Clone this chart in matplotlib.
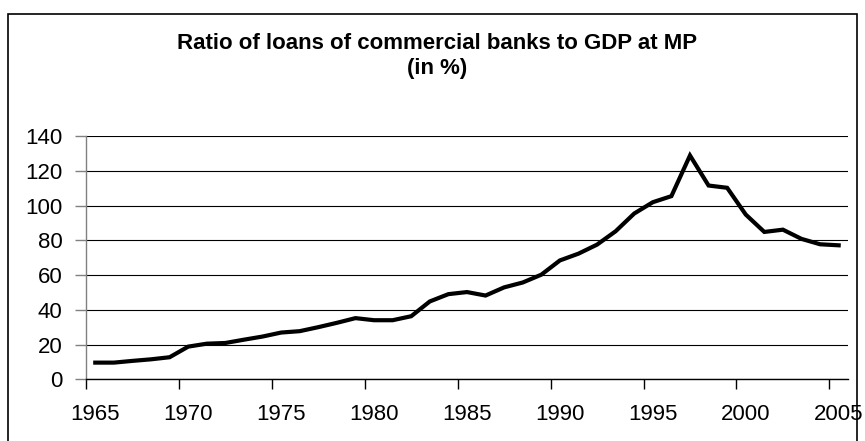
import numpy as np
import matplotlib
matplotlib.use("Agg")
import matplotlib.pyplot as plt
from matplotlib.patches import Rectangle

plt.rcParams['font.family'] = ['Liberation Sans', 'DejaVu Sans']

years = np.arange(1965, 2006)
loans_gdp = [9.6, 9.6, 10.6, 11.5, 12.7, 18.8, 20.5, 20.9, 22.8, 24.6,
             26.9, 27.7, 30.0, 32.5, 35.2, 34.0, 34.0, 36.3, 44.8, 49.0,
             50.2, 48.2, 52.9, 55.7, 60.2, 68.4, 72.3, 77.5, 85.2, 95.4,
             101.9, 105.4, 128.8, 111.5, 110.2, 94.8, 84.8, 86.1, 80.8, 77.7,
             77.1]
year_ticks = np.arange(1965, 2006, 5)
y_ticks = np.arange(0, 141, 20)

fig = plt.figure(figsize=(8.65, 4.41), dpi=100)
ax = fig.add_axes([0.0994, 0.1399, 0.8809, 0.5517])

# one category per year, point drawn in the middle of its slot
ax.plot(years + 0.5, loans_gdp, color='black', lw=3, solid_joinstyle='miter', zorder=3)

ax.set_xlim(1965, 2006)
ax.set_ylim(0, 140)
ax.set_yticks(y_ticks)
ax.set_xticks(year_ticks)
ax.set_xticklabels([])
ax.set_xticks(year_ticks + 0.5, minor=True)
ax.set_xticklabels([str(y) for y in year_ticks], minor=True)
ax.tick_params(axis='x', which='minor', length=0, pad=18, labelsize=16)
ax.tick_params(axis='x', which='major', length=7, width=1, direction='out')
ax.tick_params(axis='y', length=8, width=1, direction='out', pad=9, labelsize=16,
               color='#808080')

ax.yaxis.grid(True, color='black', lw=0.8)
ax.set_axisbelow(True)
for side in ('top', 'right'):
    ax.spines[side].set_visible(False)
ax.spines['left'].set_color('#808080')
ax.spines['left'].set_linewidth(1)
ax.spines['bottom'].set_linewidth(1)

fig.text(0.505, 0.872, 'Ratio of loans of commercial banks to GDP at MP\n(in %)',
         ha='center', va='center', fontsize=16, fontweight='bold', linespacing=1.25)

# chart frame
fig.add_artist(Rectangle((8 / 865, -0.02), 849 / 865, 1.02 - 14 / 441,
                         transform=fig.transFigure, fill=False, lw=1.2, ec='black'))

fig.savefig('out.png', dpi=100)
